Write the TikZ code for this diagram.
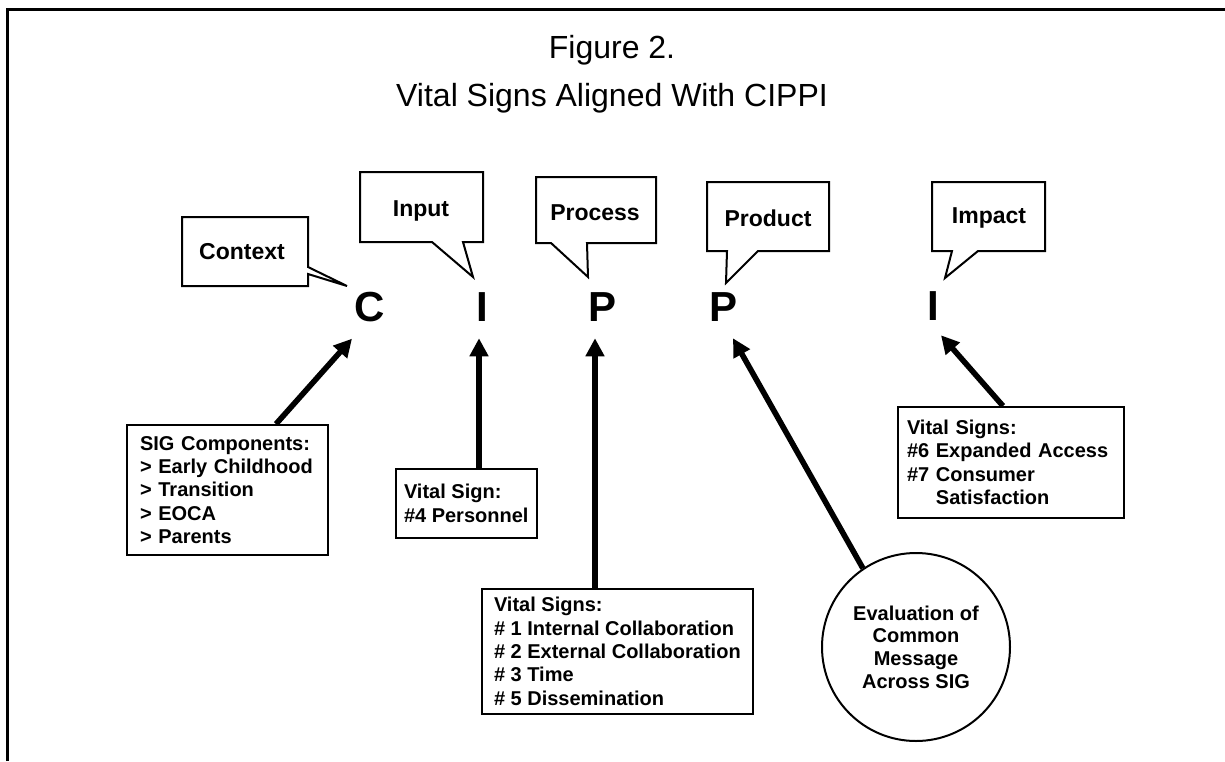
\documentclass[tikz,border=0pt]{standalone}
\usepackage{fontspec}
\setmainfont{Liberation Sans}
\usetikzlibrary{arrows.meta}
\begin{document}
\begin{tikzpicture}[x=0.75pt,y=-0.75pt,
  frameline/.style={line width=2.25pt},
  callout/.style={draw,line width=1.5pt,line join=miter},
  calltext/.style={font=\bfseries\fontsize{17.25}{20}\selectfont,inner sep=0pt},
  bigletter/.style={font=\bfseries\fontsize{31.5}{36}\selectfont,inner sep=0pt,anchor=base},
  title/.style={font=\fontsize{24}{28}\selectfont,inner sep=0pt},
  vbox/.style={draw,line width=1.5pt,anchor=north west,align=left,inner ysep=0pt,
    font=\bfseries\fontsize{15}{17.5}\selectfont},
  arr/.style={line width=4.2pt,-{Triangle[length=13.5pt,width=13.5pt]}},
  evalcircle/.style={draw,circle,line width=1.5pt,minimum size=141pt,inner sep=0pt,align=center,
    font=\bfseries\fontsize{15}{17}\selectfont}
]
\useasboundingbox (0,0) rectangle (1225,761);
% frame
\draw[frameline] (7.5,761) -- (7.5,9) -- (1225,9);
% titles
\node[title] (fig) at (612,50) {Figure 2.};
\node[title] (sub) at (612,98) {Vital Signs Aligned With CIPPI};
% callouts
\draw[callout] (182,217) -- (308,217) -- (308,267) -- (347,286) -- (308,274) -- (308,286) -- (182,286) -- cycle;
\node[calltext] (tContext) at (242,252) {Context};
\draw[callout] (360,172) -- (483,172) -- (483,242) -- (463,242) -- (473,277) -- (432,242) -- (360,242) -- cycle;
\node[calltext] (tInput) at (421,211) {Input};
\draw[callout] (536,177) -- (656,177) -- (656,243) -- (587,243) -- (588,277) -- (551,243) -- (536,243) -- cycle;
\node[calltext] (tProcess) at (595,213) {Process};
\draw[callout] (707,182) -- (829,182) -- (829,251) -- (758,251) -- (726,283) -- (727,251) -- (707,251) -- cycle;
\node[calltext] (tProduct) at (768,218) {Product};
\draw[callout] (932,182) -- (1045,182) -- (1045,251) -- (978,251) -- (945,278) -- (952,251) -- (932,251) -- cycle;
\node[calltext] (tImpact) at (989,218) {Impact};
% letters
\node[bigletter] (lC) at (370,321) {C};
\node[bigletter] (lI) at (482,321) {I};
\node[bigletter] (lP1) at (603,321) {P};
\node[bigletter] (lP2) at (723,321) {P};
\node[bigletter] (lI2) at (933,320) {I};
% boxes
\node[vbox,inner xsep=9.75pt,text width=131.25pt,minimum height=97.5pt] (sig) at (126,424)
  {SIG Components:\\> Early Childhood\\> Transition\\> EOCA\\> Parents};
\node[vbox,inner xsep=6pt,minimum height=51.75pt] (vs4) at (395,468)
  {Vital Sign:\\\#4 Personnel};
\node[vbox,inner xsep=9pt,minimum height=93.75pt] (vsp) at (481,588)
  {Vital Signs:\\\# 1 Internal Collaboration\\\# 2 External Collaboration\\\# 3 Time\\\# 5 Dissemination};
\node[vbox,inner xsep=6.75pt,text width=156pt,minimum height=83.25pt] (vsi) at (897,406)
  {Vital Signs:\\\#6 Expanded Access\\\#7 Consumer\\\phantom{\#7 }Satisfaction};
\node[evalcircle] (eval) at (916,647) {Evaluation of\\Common\\Message\\Across SIG};
% arrows
\draw[arr] ([shift={(48.5,0)}]sig.north) -- ([shift={(-18,17)}]lC.south);
\draw[arr] (vs4.north -| lI.south) ++(-3,0) -- ([shift={(-3,17)}]lI.south);
\draw[arr] (vsp.north -| lP1.south) ++(-8,0) -- ([shift={(-8,17)}]lP1.south);
\draw[arr] (eval.124) -- ([shift={(10,17)}]lP2.south);
\draw[arr] ([shift={(-8,0)}]vsi.north) -- ([shift={(8,15)}]lI2.south);
\end{tikzpicture}
\end{document}
